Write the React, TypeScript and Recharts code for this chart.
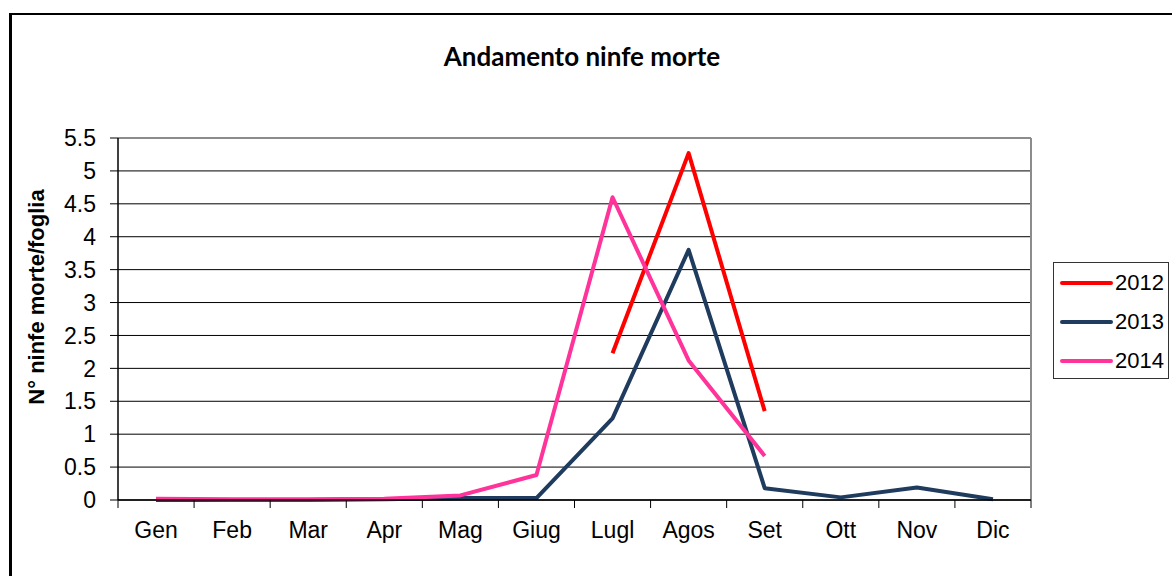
import React from 'react';
import {
  LineChart,
  Line,
  XAxis,
  YAxis,
  CartesianGrid,
  ReferenceLine,
  Legend,
} from 'recharts';

const months = ['Gen', 'Feb', 'Mar', 'Apr', 'Mag', 'Giug', 'Lugl', 'Agos', 'Set', 'Ott', 'Nov', 'Dic'];
const s2012: (number | null)[] = [null, null, null, null, null, null, 2.23, 5.27, 1.35, null, null, null];
const s2013: (number | null)[] = [0, 0, 0, 0.01, 0.03, 0.03, 1.24, 3.8, 0.18, 0.04, 0.19, 0.01];
const s2014: (number | null)[] = [0.02, 0.01, 0.01, 0.02, 0.07, 0.38, 4.6, 2.12, 0.67, null, null, null];
const yTicks = [0, 0.5, 1, 1.5, 2, 2.5, 3, 3.5, 4, 4.5, 5, 5.5];
const labelTicks = months.map((_, i) => i + 0.5);
const boundTicks = months.map((_, i) => i).concat([12]);

const seriesInfo = [
  { key: 'y2012', name: '2012', color: '#FF0000' },
  { key: 'y2013', name: '2013', color: '#1F3B5E' },
  { key: 'y2014', name: '2014', color: '#FF3399' },
];

const data = months.map((m, i) => ({
  pos: i + 0.5,
  name: m,
  y2012: s2012[i],
  y2013: s2013[i],
  y2014: s2014[i],
}));

const FONT = '"Liberation Sans", Arial, sans-serif';

const LegendBox = () => (
  <div
    style={{
      width: 116,
      height: 117,
      border: '1px solid #333',
      background: '#fff',
      boxSizing: 'border-box',
      paddingTop: 0,
    }}
  >
    {seriesInfo.map((s) => (
      <div key={s.key} style={{ display: 'flex', alignItems: 'center', height: 39 }}>
        <svg width={60} height={10} style={{ display: 'block' }}>
          <line x1={8} x2={57} y1={5} y2={5} stroke={s.color} strokeWidth={4} strokeLinecap="round" />
        </svg>
        <span style={{ fontFamily: FONT, fontSize: 22, color: '#000', marginLeft: 1, lineHeight: '22px' }}>
          {s.name}
        </span>
      </div>
    ))}
  </div>
);

export default function App() {
  return (
    <div
      style={{
        position: 'absolute',
        left: 0,
        top: 0,
        width: 1172,
        height: 576,
        overflow: 'hidden',
        background: '#fff',
      }}
    >
      <div
        style={{
          position: 'absolute',
          left: 9,
          top: 13,
          width: 1300,
          height: 700,
          borderLeft: '3px solid #000',
          borderTop: '2px solid #000',
        }}
      />
      <div
        style={{
          position: 'absolute',
          left: 0,
          top: 40,
          width: 1164,
          textAlign: 'center',
          fontFamily: 'Lato, "Open Sans", sans-serif',
          fontWeight: 700,
          fontSize: 26,
          lineHeight: '32px',
          color: '#000',
        }}
      >
        Andamento ninfe morte
      </div>
      <svg
        width={80}
        height={576}
        style={{ position: 'absolute', left: 0, top: 0 }}
      >
        <text
          x={0}
          y={0}
          transform="translate(44,297) rotate(-90)"
          textAnchor="middle"
          fontFamily={FONT}
          fontWeight={700}
          fontSize={22}
          fill="#000"
        >
          N° ninfe morte/foglia
        </text>
      </svg>
      <div style={{ position: 'absolute', left: 0, top: 0 }}>
        <LineChart
          width={1172}
          height={576}
          data={data}
          margin={{ top: 138, right: 141, bottom: 45, left: 58 }}
        >
          <CartesianGrid xAxisId="bounds" horizontal={true} vertical={false} stroke="#000" strokeWidth={1} />
          <XAxis
            xAxisId="bounds"
            type="number"
            dataKey="pos"
            domain={[0, 12]}
            ticks={boundTicks}
            tickFormatter={() => ''}
            height={1}
            tickSize={8}
            axisLine={{ stroke: '#000', strokeWidth: 1.5 }}
            tickLine={{ stroke: '#000' }}
            interval={0}
            allowDataOverflow
          />
          <XAxis
            xAxisId="labels"
            type="number"
            dataKey="pos"
            domain={[0, 12]}
            ticks={labelTicks}
            tickFormatter={(v: number) => months[Math.floor(v)]}
            height={30}
            tickSize={8}
            tickMargin={13}
            axisLine={false}
            tickLine={{ stroke: 'none' }}
            tick={{ fontFamily: FONT, fontSize: 23, fill: '#000' }}
            interval={0}
            allowDataOverflow
          />
          <YAxis
            type="number"
            domain={[0, 5.5]}
            ticks={yTicks}
            width={60}
            tickSize={8}
            tickMargin={14}
            axisLine={{ stroke: '#000', strokeWidth: 1.5 }}
            tickLine={{ stroke: '#000' }}
            tick={{ fontFamily: FONT, fontSize: 23, fill: '#000' }}
            interval={0}
          />
          <ReferenceLine xAxisId="bounds" y={5.5} stroke="#8C8C8C" strokeWidth={2} />
          <ReferenceLine xAxisId="bounds" x={12} stroke="#8C8C8C" strokeWidth={2} />
          {seriesInfo.map((s) => (
            <Line
              key={s.key}
              xAxisId="labels"
              type="linear"
              dataKey={s.key}
              name={s.name}
              stroke={s.color}
              strokeWidth={4}
              dot={false}
              activeDot={false}
              connectNulls={false}
              strokeLinejoin="round"
              isAnimationActive={false}
            />
          ))}
          <Legend
            layout="horizontal"
            verticalAlign="middle"
            align="center"
            content={() => <LegendBox />}
            wrapperStyle={{ left: 1053, top: 262, width: 116, height: 117 }}
          />
        </LineChart>
      </div>
    </div>
  );
}
